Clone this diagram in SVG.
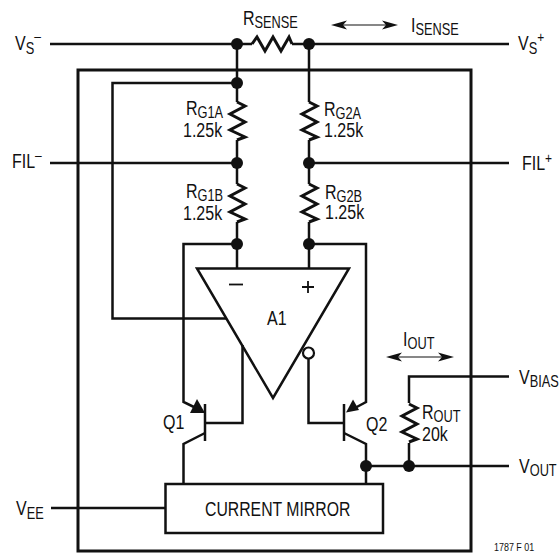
<svg xmlns="http://www.w3.org/2000/svg" width="560" height="553" viewBox="0 0 560 553">
<style>
.w{fill:none;stroke:#111;stroke-width:2.5}
.h{fill:none;stroke:#111;stroke-width:3}
.z{fill:none;stroke:#111;stroke-width:3}
.t{fill:none;stroke:#111;stroke-width:1.2}
.m{fill:none;stroke:#111;stroke-width:1.8}
.d{fill:#111}
.a{fill:#111;stroke:none}
text{font-family:"Liberation Sans",Arial,sans-serif;font-size:20px;fill:#111}
.s{font-size:16px}
.u{font-size:15px}
</style>
<defs>
<path id="zv" d="M0 0L8 4L-7 12L8 20L-7 28L8 35L0 38" class="z"/>
<path id="zh" d="M0 0L5 -7L13 7L21 -7L29 7L37 -7L40 0" class="z"/>
</defs>
<rect id="frame" x="78" y="70" width="393" height="481" class="h"/>
<g id="connectors">
<path class="w" d="M50 44H252M292 44H509M237 44V102M237 140V184M237 222V268M309 44V102M309 140V184M309 222V268"/>
<path class="w" d="M50 163H237M309 163H509"/>
<path class="w" d="M237 83H112.500V318.500H227"/>
<path class="w" d="M237 244H183.500V402L196 408"/>
<path class="w" d="M309 244H366V402L353 409"/>
<path class="w" d="M205 423H242.500V345M205 433L183.500 444V484"/>
<path class="w" d="M344 423H308.500V359M344 433L366 444V484"/>
<path class="w" d="M51 508H165"/>
<path class="w" d="M509 376.500H409V403M409 443V466M366 466H509"/>
<path class="t" d="M338 25H392M392 357H448"/>
<path class="a" d="M331 25L347 20.500L343 25L347 29.500ZM398 25L382 20.500L386 25L382 29.500Z"/>
<path class="a" d="M386 357L402 352.500L398 357L402 361.500ZM454 357L438 352.500L442 357L438 361.500Z"/>
</g>
<g id="rsense"><use href="#zh" x="252" y="44"/><text transform="translate(243 25) scale(.8 1)">R<tspan class="s" dy="3">SENSE</tspan></text></g>
<g id="isense"><text transform="translate(411 32) scale(.8 1)">I<tspan class="s" dy="3">SENSE</tspan></text></g>
<g id="vsm"><text transform="translate(15 50) scale(.8 1)">V<tspan class="s" dy="4">S</tspan><tspan class="u" dy="-13">–</tspan></text></g>
<g id="vsp"><text transform="translate(518 50) scale(.8 1)">V<tspan class="s" dy="4">S</tspan><tspan class="u" dy="-12">+</tspan></text></g>
<g id="film"><text transform="translate(12 168) scale(.8 1)">FIL<tspan class="u" dy="-8">–</tspan></text></g>
<g id="filp"><text transform="translate(522 170) scale(.8 1)">FIL<tspan class="u" dy="-7">+</tspan></text></g>
<g id="rg1a"><use href="#zv" x="237" y="102"/><text transform="translate(186 115) scale(.8 1)">R<tspan class="s" dy="3">G1A</tspan></text><text transform="translate(183 137) scale(.8 1)">1.25k</text></g>
<g id="rg1b"><use href="#zv" x="237" y="184"/><text transform="translate(186 198) scale(.8 1)">R<tspan class="s" dy="3">G1B</tspan></text><text transform="translate(183 220) scale(.8 1)">1.25k</text></g>
<g id="rg2a"><use href="#zv" x="309" y="102"/><text transform="translate(324 115.500) scale(.8 1)">R<tspan class="s" dy="3">G2A</tspan></text><text transform="translate(324 137) scale(.8 1)">1.25k</text></g>
<g id="rg2b"><use href="#zv" x="309" y="184"/><text transform="translate(325 198.500) scale(.8 1)">R<tspan class="s" dy="3">G2B</tspan></text><text transform="translate(325 219) scale(.8 1)">1.25k</text></g>
<g id="rout"><use href="#zv" x="409" y="404"/><text transform="translate(422 418.500) scale(.8 1)">R<tspan class="s" dy="3">OUT</tspan></text><text transform="translate(422 441) scale(.8 1)">20k</text></g>
<g id="nodes">
<circle class="d" cx="237" cy="44" r="6"/><circle class="d" cx="309" cy="44" r="6"/>
<circle class="d" cx="237" cy="83" r="6"/><circle class="d" cx="237" cy="163" r="6"/><circle class="d" cx="309" cy="163" r="6"/>
<circle class="d" cx="237" cy="244" r="6"/><circle class="d" cx="309" cy="244" r="6"/>
<circle class="d" cx="366" cy="466" r="6"/><circle class="d" cx="409" cy="466" r="6"/>
</g>
<g id="a1"><path d="M197 268.500H349L273 398Z" class="w"/><text transform="translate(267 325) scale(.8 1)">A1</text><path class="m" d="M229 284.500H243"/><path class="m" d="M302 287H314M308 281V293"/><circle cx="308.500" cy="353" r="5.500" fill="#fff" stroke="#111" stroke-width="2.200"/></g>
<g id="q1"><path class="w" d="M205 404V441"/><path class="a" d="M205 413L197 399L190 413Z"/><text transform="translate(163 429) scale(.8 1)">Q1</text></g>
<g id="q2"><path class="w" d="M344 404V441"/><path class="a" d="M346 412.500L353 399.500L359 410Z"/><text transform="translate(366 431) scale(.8 1)">Q2</text></g>
<g id="mirror"><rect x="165.500" y="484" width="217.500" height="49" class="w"/><text transform="translate(205 516) scale(.79 1)">CURRENT MIRROR</text></g>
<g id="labels">
<text transform="translate(16 515) scale(.8 1)">V<tspan class="s" dy="4">EE</tspan></text>
<text transform="translate(403 346) scale(.8 1)">I<tspan class="s" dy="3">OUT</tspan></text>
<text transform="translate(519 384) scale(.8 1)">V<tspan class="s" dy="3">BIAS</tspan></text>
<text transform="translate(519 473) scale(.8 1)">V<tspan class="s" dy="3">OUT</tspan></text>
<text transform="translate(494 551) scale(.85 1)" style="font-size:10.500px">1787 F 01</text>
</g>
</svg>
